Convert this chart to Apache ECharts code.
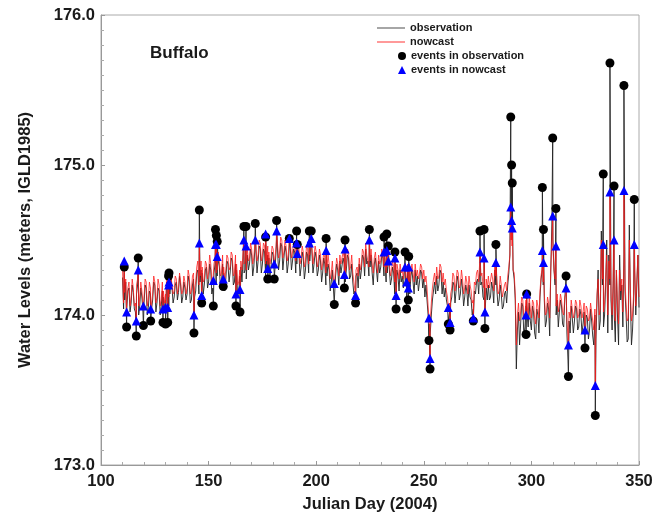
<!DOCTYPE html>
<html><head><meta charset="utf-8">
<script src="https://cdn.jsdelivr.net/npm/echarts@6/dist/echarts.min.js"></script>
<style>html,body{margin:0;padding:0;background:#fff}#c{width:661px;height:512px}</style>
</head><body><div id="c"></div>
<script>
// Readings at whole days (110 .. 350) and at half days (110.5 .. 349.5)
const startDay = 110;
const obsDaily = [
174.25,174.10,174.05,174.18,174.08,174.15,174.02,174.20,174.06,174.12,
174.08,174.18,174.05,174.14,174.10,174.20,174.08,174.16,174.06,174.12,
174.10,174.20,174.14,174.18,174.12,174.22,174.15,174.20,174.12,174.18,
174.14,174.22,174.10,174.24,174.16,174.30,174.22,174.28,174.20,174.32,
174.22,174.30,174.18,174.34,174.26,174.32,174.22,174.28,174.24,174.34,
174.28,174.36,174.22,174.30,174.16,174.32,174.38,174.30,174.40,174.34,
174.40,174.32,174.42,174.36,174.44,174.34,174.42,174.30,174.38,174.32,
174.40,174.34,174.44,174.36,174.46,174.38,174.42,174.34,174.44,174.36,
174.42,174.34,174.40,174.32,174.38,174.30,174.40,174.36,174.42,174.34,
174.38,174.30,174.36,174.28,174.34,174.26,174.30,174.22,174.18,174.26,
174.30,174.36,174.28,174.34,174.30,174.38,174.26,174.22,174.16,174.28,
174.34,174.30,174.38,174.44,174.36,174.32,174.28,174.34,174.30,174.36,
174.32,174.38,174.34,174.28,174.30,174.24,174.28,174.18,174.26,174.30,
174.26,174.30,174.24,174.20,174.26,174.22,174.30,174.26,174.22,174.28,
174.24,174.20,174.00,173.88,174.10,174.22,174.26,174.20,174.28,174.22,
174.18,174.06,174.02,174.12,174.20,174.16,174.22,174.14,174.18,174.12,
174.16,174.20,174.10,174.04,174.14,174.24,174.30,174.22,174.10,174.18,
174.20,174.12,174.18,174.30,174.16,174.10,174.14,174.06,174.16,174.20,
174.40,174.50,174.24,173.64,174.02,173.94,174.06,173.92,174.00,174.08,
173.90,174.02,173.84,174.00,174.12,174.30,174.10,173.96,174.04,174.30,
174.50,174.20,174.10,174.02,174.06,173.92,174.10,173.70,173.88,173.98,
173.96,174.04,173.92,174.00,173.94,173.86,173.98,173.90,173.96,173.80,
173.84,174.30,173.96,174.20,174.00,174.50,174.40,174.10,174.20,173.82,
174.00,174.40,174.20,174.40,174.00,173.84,174.10,173.90,174.30,174.20,
174.05];
const obsHalf = [
174.04,174.22,174.16,174.02,174.20,174.04,174.14,174.00,174.18,174.02,
174.20,174.00,174.16,174.04,174.22,174.02,174.18,174.00,174.16,174.04,
174.22,174.06,174.24,174.08,174.20,174.10,174.26,174.08,174.22,174.10,
174.26,174.08,174.20,174.12,174.28,174.14,174.30,174.14,174.30,174.18,
174.34,174.14,174.28,174.20,174.36,174.18,174.34,174.16,174.36,174.22,
174.38,174.20,174.34,174.12,174.26,174.22,174.28,174.24,174.30,174.44,
174.26,174.44,174.28,174.46,174.28,174.44,174.26,174.40,174.26,174.42,
174.28,174.46,174.30,174.48,174.30,174.46,174.28,174.46,174.30,174.44,
174.28,174.44,174.26,174.42,174.24,174.42,174.28,174.46,174.28,174.42,
174.26,174.40,174.22,174.38,174.20,174.34,174.16,174.30,174.12,174.34,
174.20,174.28,174.38,174.22,174.40,174.24,174.34,174.14,174.26,174.18,
174.24,174.40,174.26,174.34,174.26,174.40,174.20,174.38,174.22,174.28,
174.40,174.26,174.22,174.36,174.20,174.32,174.14,174.30,174.16,174.22,
174.18,174.22,174.30,174.14,174.30,174.14,174.20,174.16,174.30,174.18,
174.12,174.10,173.94,174.00,174.16,174.14,174.16,174.30,174.14,174.12,
174.10,173.98,174.08,174.22,174.08,174.26,174.10,174.24,174.06,174.20,
174.06,174.12,174.00,174.16,174.22,174.14,174.20,174.12,174.02,174.10,
174.10,174.22,174.08,174.20,174.06,174.20,174.04,174.14,174.08,174.28,
174.60,174.30,174.10,173.90,173.80,174.08,173.86,174.06,173.92,173.96,
174.06,173.88,174.04,173.88,174.24,174.20,173.92,174.08,173.86,174.60,
174.30,174.00,173.92,174.10,173.94,174.10,173.88,173.96,174.06,173.88,
174.06,173.90,174.04,173.88,174.02,174.00,173.84,174.04,173.86,174.00,
174.10,173.90,174.56,173.92,174.20,173.88,174.20,173.90,174.00,174.30,
173.80,174.10,173.92,174.16,173.82,174.60,173.80,174.10,174.00,174.40];
const nowcastDaily = [
174.30,174.15,174.10,174.22,174.12,174.18,174.08,174.24,174.12,174.16,
174.12,174.22,174.10,174.18,174.14,174.22,174.12,174.20,174.10,174.16,
174.14,174.22,174.18,174.20,174.16,174.24,174.18,174.22,174.16,174.22,
174.18,174.26,174.16,174.28,174.22,174.36,174.26,174.32,174.24,174.34,
174.28,174.34,174.24,174.38,174.30,174.36,174.28,174.32,174.30,174.38,
174.32,174.40,174.28,174.34,174.22,174.36,174.42,174.36,174.44,174.38,
174.44,174.38,174.46,174.40,174.48,174.40,174.46,174.36,174.42,174.38,
174.44,174.40,174.48,174.42,174.50,174.42,174.46,174.40,174.48,174.42,
174.46,174.40,174.44,174.38,174.42,174.36,174.44,174.40,174.46,174.40,
174.42,174.36,174.40,174.34,174.38,174.32,174.34,174.28,174.24,174.30,
174.34,174.40,174.34,174.38,174.34,174.42,174.32,174.28,174.22,174.32,
174.38,174.34,174.42,174.48,174.40,174.36,174.34,174.38,174.34,174.40,
174.36,174.40,174.38,174.32,174.34,174.30,174.32,174.24,174.30,174.34,
174.30,174.34,174.28,174.26,174.30,174.28,174.34,174.30,174.28,174.32,
174.30,174.26,174.06,173.96,174.18,174.28,174.32,174.26,174.32,174.28,
174.24,174.12,174.08,174.18,174.26,174.22,174.28,174.20,174.24,174.18,
174.22,174.26,174.16,174.10,174.20,174.30,174.36,174.28,174.18,174.24,
174.26,174.18,174.24,174.34,174.22,174.16,174.20,174.12,174.22,174.26,
174.40,174.46,174.28,173.80,174.08,174.02,174.10,174.00,174.06,174.12,
173.98,174.08,173.94,174.06,174.16,174.32,174.14,174.02,174.08,174.30,
174.46,174.24,174.14,174.06,174.10,174.00,174.14,173.86,173.98,174.04,
174.02,174.08,174.00,174.06,174.02,173.96,174.04,173.98,174.02,173.90,
173.96,174.24,174.04,174.24,174.08,174.40,174.36,174.14,174.24,173.96,
174.08,174.30,174.24,174.36,174.08,173.98,174.16,174.00,174.30,174.24,
174.12];
const nowcastHalf = [
174.08,174.24,174.18,174.06,174.24,174.06,174.20,174.06,174.22,174.08,
174.24,174.06,174.22,174.08,174.26,174.08,174.24,174.06,174.22,174.08,
174.26,174.12,174.26,174.14,174.26,174.14,174.28,174.14,174.26,174.14,
174.30,174.14,174.26,174.18,174.32,174.20,174.36,174.22,174.36,174.24,
174.40,174.22,174.34,174.28,174.42,174.26,174.40,174.24,174.40,174.30,
174.42,174.26,174.40,174.20,174.30,174.30,174.34,174.30,174.36,174.48,
174.34,174.48,174.36,174.50,174.36,174.48,174.34,174.46,174.34,174.46,
174.36,174.50,174.38,174.52,174.38,174.50,174.36,174.50,174.38,174.48,
174.36,174.48,174.34,174.46,174.32,174.46,174.34,174.50,174.34,174.46,
174.32,174.44,174.30,174.42,174.28,174.40,174.24,174.36,174.20,174.38,
174.26,174.34,174.42,174.28,174.44,174.30,174.40,174.22,174.30,174.26,
174.30,174.44,174.32,174.40,174.32,174.44,174.28,174.42,174.28,174.34,
174.44,174.32,174.28,174.40,174.26,174.36,174.22,174.34,174.24,174.28,
174.24,174.28,174.34,174.22,174.34,174.22,174.26,174.24,174.34,174.24,
174.22,174.18,174.00,174.08,174.24,174.20,174.24,174.34,174.22,174.20,
174.16,174.06,174.14,174.28,174.16,174.30,174.18,174.30,174.14,174.26,
174.14,174.20,174.08,174.22,174.28,174.22,174.26,174.20,174.10,174.18,
174.18,174.28,174.16,174.26,174.14,174.26,174.12,174.20,174.16,174.32,
174.50,174.30,174.14,174.00,173.96,174.12,173.98,174.10,174.00,174.04,
174.10,173.98,174.10,173.98,174.26,174.22,174.00,174.12,173.98,174.50,
174.30,174.06,174.02,174.14,174.02,174.12,173.96,174.02,174.10,173.98,
174.10,173.98,174.10,173.98,174.08,174.06,173.96,174.08,173.96,174.04,
174.14,174.00,174.50,174.02,174.24,174.00,174.24,174.00,174.08,174.30,
173.94,174.16,174.02,174.22,173.96,174.50,173.96,174.14,174.06,174.40];
// Events
const eventDays = [110.8,111.9,116.4,117.3,119.7,123.1,128.8,130.0,131.0,131.4,131.6,143.2,145.7,146.8,152.2,153.2,153.6,154.0,156.8,162.7,
164.6,166.4,167.4,171.7,176.5,177.5,180.5,181.6,187.5,190.9,191.2,196.8,197.7,204.6,208.4,213.1,213.4,218.3,224.7,231.5,
232.8,233.5,236.6,237.1,241.3,242.0,242.8,243.0,252.4,252.9,261.4,262.2,273.0,276.1,278.0,278.4,283.5,290.4,290.8,291.1,
297.5,297.8,305.1,305.6,309.9,311.4,316.1,317.2,324.9,329.7,333.4,336.5,338.4,343.0,347.8];
const obsEvents = [174.32,173.92,173.86,174.38,173.93,173.96,173.95,173.94,173.95,174.26,174.28,173.88,174.70,174.08,174.06,174.57,174.53,174.49,174.19,174.06,
174.02,174.59,174.59,174.61,174.52,174.24,174.24,174.63,174.51,174.56,174.47,174.56,174.56,174.51,174.07,174.18,174.50,174.08,174.57,174.52,
174.54,174.46,174.42,174.04,174.42,174.04,174.10,174.39,173.83,173.64,173.94,173.90,173.96,174.56,174.57,173.91,174.47,175.32,175.00,174.88,
173.87,174.14,174.85,174.57,175.18,174.71,174.26,173.59,173.78,173.33,174.94,175.68,174.86,175.53,174.77];
const nowcastEvents = [174.36,174.02,173.96,174.30,174.06,174.04,174.04,174.05,174.05,174.20,174.22,174.00,174.48,174.13,174.23,174.47,174.47,174.39,174.24,174.14,
174.17,174.50,174.46,174.50,174.54,174.31,174.34,174.56,174.51,174.48,174.41,174.48,174.51,174.43,174.21,174.27,174.44,174.13,174.50,174.42,
174.43,174.36,174.38,174.13,174.32,174.22,174.18,174.32,173.98,173.71,174.05,173.95,173.98,174.42,174.38,174.02,174.35,174.72,174.63,174.58,
174.00,174.14,174.43,174.35,174.66,174.46,174.18,173.80,173.90,173.53,174.47,174.82,174.50,174.83,174.47];
const xTicks = [100,150,200,250,300,350];
const yTicks = [173,174,175,176];

function buildLine(daily, half, evVals){
  const pts = daily.map((v,i)=>[startDay+i, v]);
  half.forEach((v,i)=>pts.push([startDay+i+0.5, v]));
  eventDays.forEach((d,i)=>pts.push([d, evVals[i]]));
  pts.sort((a,b)=>a[0]-b[0]);
  return pts;
}
const FONT = 'Liberation Sans, Arial, sans-serif';
const legendText = {fontSize:11,fontWeight:'bold',fontFamily:FONT,color:'#1a1a1a',lineHeight:12};
const chart = echarts.init(document.getElementById('c'));
chart.setOption({
  animation:false,
  backgroundColor:'#fff',
  grid:{left:101,right:22,top:15,bottom:47,show:true,borderColor:'#aaa',borderWidth:1,containLabel:false,outerBoundsMode:'none'},
  graphic:[{type:'text',left:150,top:45,style:{text:'Buffalo',font:'bold 17px '+FONT,fill:'#1a1a1a'}}],
  legend:[
    {data:[{name:'observation',icon:'rect'},{name:'nowcast',icon:'rect'}],orient:'vertical',left:377,top:22,padding:0,
     itemWidth:28,itemHeight:1.5,itemGap:2,textStyle:legendText},
    {data:['events in observation','events in nowcast'],orient:'vertical',left:398,top:50,padding:0,
     itemWidth:8,itemHeight:8,itemGap:2,textStyle:legendText}
  ],
  xAxis:{type:'value',min:xTicks[0],max:xTicks[xTicks.length-1],interval:50,
    name:'Julian Day (2004)',nameLocation:'middle',nameGap:31,
    nameTextStyle:{fontSize:16.5,fontWeight:'bold',fontFamily:FONT,color:'#1a1a1a'},
    axisLine:{lineStyle:{color:'#999'}},
    axisTick:{inside:true,length:4,lineStyle:{color:'#999'}},
    minorTick:{show:true,splitNumber:5,length:3,lineStyle:{color:'#aaa'}},
    splitLine:{show:false},
    axisLabel:{fontSize:16.5,fontWeight:'bold',fontFamily:FONT,color:'#1a1a1a',margin:8}},
  yAxis:{type:'value',min:yTicks[0],max:yTicks[yTicks.length-1],interval:1,
    name:'Water Levels (meters, IGLD1985)',nameLocation:'middle',nameGap:67,
    nameTextStyle:{fontSize:16.5,fontWeight:'bold',fontFamily:FONT,color:'#1a1a1a'},
    axisLine:{lineStyle:{color:'#999'}},
    axisTick:{inside:true,length:4,lineStyle:{color:'#999'}},
    minorTick:{show:true,splitNumber:10,length:3,lineStyle:{color:'#aaa'}},
    splitLine:{show:false},
    axisLabel:{fontSize:16.5,fontWeight:'bold',fontFamily:FONT,color:'#1a1a1a',margin:6,padding:[3,0,0,0],formatter:v=>v.toFixed(1)}},
  series:[
    {name:'observation',type:'line',data:buildLine(obsDaily,obsHalf,obsEvents),symbol:'none',z:2,
     lineStyle:{color:'#222',width:1,opacity:0.9},itemStyle:{color:'#888'}},
    {name:'nowcast',type:'line',data:buildLine(nowcastDaily,nowcastHalf,nowcastEvents),symbol:'none',z:3,
     lineStyle:{color:'#ff1a1a',width:1,opacity:0.75},itemStyle:{color:'#f77'}},
    {name:'events in observation',type:'scatter',data:eventDays.map((d,i)=>[d,obsEvents[i]]),
     symbol:'circle',symbolSize:9,z:4,itemStyle:{color:'#000',opacity:1}},
    {name:'events in nowcast',type:'scatter',data:eventDays.map((d,i)=>[d,nowcastEvents[i]]),
     symbol:'triangle',symbolSize:9,z:5,itemStyle:{color:'#0000ff',opacity:1}}
  ]
});
</script></body></html>
